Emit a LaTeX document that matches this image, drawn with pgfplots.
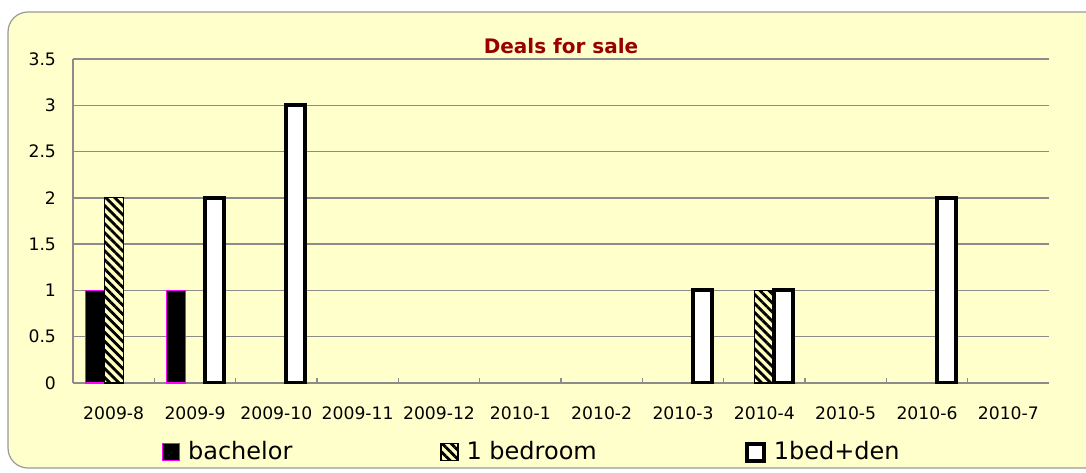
\documentclass[border=0pt]{standalone}
\usepackage{fontspec}
\setmainfont{DejaVu Sans}
\usepackage{pgfplots}
\pgfplotsset{compat=1.18}
\usetikzlibrary{patterns.meta}
\definecolor{bgyellow}{HTML}{FFFFCC}
\definecolor{hatchbg}{HTML}{FFFFC0}
\definecolor{titlered}{HTML}{990000}
\definecolor{gridgray}{HTML}{8C8C8C}
\definecolor{magentab}{HTML}{FF00FF}
\begin{document}
\begin{tikzpicture}
\useasboundingbox (0pt,0pt) rectangle (543pt,236pt);
\draw[gray!80, line width=0.6pt, fill=bgyellow, rounded corners=10pt] (4pt,2pt) rectangle (590pt,230pt);
\begin{axis}[
  at={(36.5pt,44.5pt)}, anchor=south west,
  scale only axis, width=488pt, height=162pt,
  ybar=0pt, bar width=9.5pt,
  xmin=-0.5, xmax=11.5, ymin=0, ymax=3.5,
  xtick={0,...,11},
  xticklabels={2009-8,2009-9,2009-10,2009-11,2009-12,2010-1,2010-2,2010-3,2010-4,2010-5,2010-6,2010-7},
  minor xtick={0.5,1.5,...,10.5},
  major x tick style={draw=none},
  minor x tick style={draw=gridgray, line width=0.6pt},
  minor tick length=2.5pt,
  tick align=inside,
  ytick={0,0.5,...,3.5},
  major y tick style={draw=none},
  ymajorgrids,
  major grid style={gridgray, line width=0.75pt},
  axis x line*=bottom, axis y line*=left,
  axis line style={gridgray, line width=0.75pt, -},
  /pgf/number format/assume math mode=true,
  ticklabel style={font=\fontsize{8.6}{10}\selectfont, text=black},
  xticklabel style={anchor=base, yshift=-18pt},
  yticklabel style={anchor=east, xshift=-5pt},
  title={Deals for sale},
  title style={font=\bfseries\fontsize{10}{12}\selectfont, text=titlered, anchor=base, at={(0.5,1)}, yshift=-3pt},
  legend columns=3,
  legend style={at={(0.0845,-0.213)}, anchor=west, draw=none, fill=none,
    font=\fontsize{12}{14}\selectfont,
    /tikz/every even column/.append style={column sep=72pt}},
  legend image code/.code={\draw[#1] (0pt,-4.25pt) rectangle (8.5pt,4.25pt); \path (10.5pt,0pt);},
]
\addplot[fill=black, draw=magentab, line width=0.6pt] coordinates {(0,1) (1,1)};
\addlegendentry{bachelor}
\addplot[fill=hatchbg, draw=black, line width=0.6pt, postaction={pattern={Lines[angle=-45, distance=3.2pt, line width=1.4pt]}, pattern color=black}] coordinates {(0,2) (8,1)};
\addlegendentry{1 bedroom}
\addplot[fill=white, draw=black, line width=2pt] coordinates {(1,2) (2,3) (7,1) (8,1) (10,2)};
\addlegendentry{1bed+den}
\end{axis}
\end{tikzpicture}
\end{document}
